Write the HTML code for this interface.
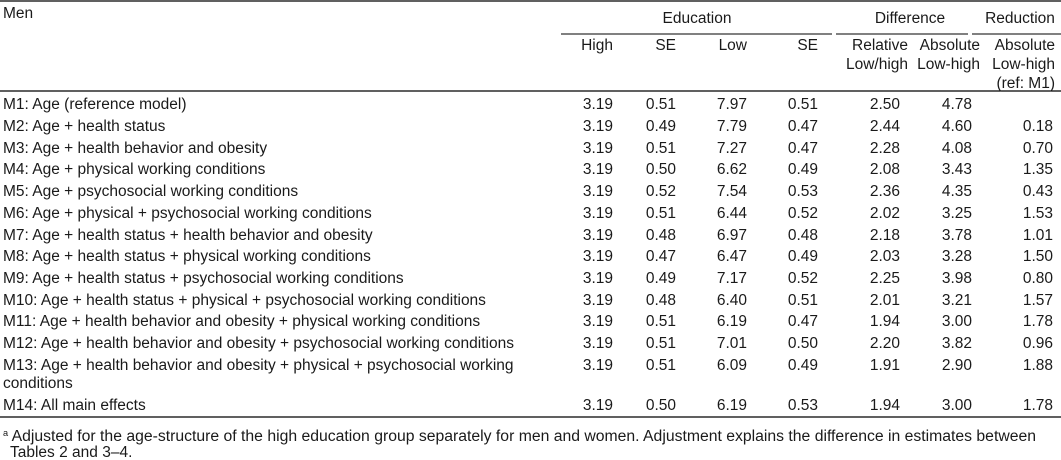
<!DOCTYPE html>
<html><head><meta charset="utf-8"><style>
html,body{margin:0;padding:0;background:#fff;}
svg{display:block;}
text{font-family:"Liberation Sans",Arial,sans-serif;font-size:15.5px;fill:#1a1a1a;}
</style></head><body>
<svg width="1061" height="460" xmlns="http://www.w3.org/2000/svg">
<line x1="0" y1="1" x2="1061" y2="1" stroke="#000" stroke-width="1.3"/>
<line x1="561" y1="34" x2="832" y2="34" stroke="#000" stroke-width="1"/>
<line x1="836" y1="34" x2="968" y2="34" stroke="#000" stroke-width="1"/>
<line x1="972" y1="34" x2="1061" y2="34" stroke="#000" stroke-width="1"/>
<line x1="0" y1="91" x2="1061" y2="91" stroke="#000" stroke-width="1.3"/>
<line x1="0" y1="417" x2="1061" y2="417" stroke="#000" stroke-width="1.3"/>
<text x="3" y="18">Men</text>
<g text-anchor="middle">
<text x="697" y="23">Education</text>
<text x="910" y="23">Difference</text>
<text x="1020" y="23">Reduction</text>
</g>
<g text-anchor="end">
<text x="613" y="50">High</text>
<text x="676" y="50">SE</text>
<text x="747" y="50">Low</text>
<text x="818" y="50">SE</text>
<text x="908" y="50">Relative</text>
<text x="908" y="69">Low/high</text>
<text x="980" y="50">Absolute</text>
<text x="980" y="69">Low-high</text>
<text x="1055" y="50">Absolute</text>
<text x="1055" y="69">Low-high</text>
<text x="1055" y="88">(ref: M1)</text>
</g>
<g id="rows"></g>
<text x="3" y="441" textLength="1033" lengthAdjust="spacingAndGlyphs"><tspan font-size="9" dy="-5">a</tspan><tspan dy="5"> Adjusted for the age-structure of the high education group separately for men and women. Adjustment explains the difference in estimates between</tspan></text>
<text x="10" y="457">Tables 2 and 3–4.</text>
<g>
<text x="3" y="109">M1: Age (reference model)</text>
<text x="3" y="131">M2: Age + health status</text>
<text x="3" y="153">M3: Age + health behavior and obesity</text>
<text x="3" y="174">M4: Age + physical working conditions</text>
<text x="3" y="196">M5: Age + psychosocial working conditions</text>
<text x="3" y="218">M6: Age + physical + psychosocial working conditions</text>
<text x="3" y="240">M7: Age + health status + health behavior and obesity</text>
<text x="3" y="261">M8: Age + health status + physical working conditions</text>
<text x="3" y="283">M9: Age + health status + psychosocial working conditions</text>
<text x="3" y="305">M10: Age + health status + physical + psychosocial working conditions</text>
<text x="3" y="326">M11: Age + health behavior and obesity + physical working conditions</text>
<text x="3" y="348">M12: Age + health behavior and obesity + psychosocial working conditions</text>
<text x="3" y="370">M13: Age + health behavior and obesity + physical + psychosocial working</text>
<text x="3" y="388">conditions</text>
<text x="3" y="410">M14: All main effects</text>
</g>
<g text-anchor="end">
<text y="109"><tspan x="613">3.19</tspan><tspan x="676">0.51</tspan><tspan x="747">7.97</tspan><tspan x="818">0.51</tspan><tspan x="900">2.50</tspan><tspan x="972">4.78</tspan></text>
<text y="131"><tspan x="613">3.19</tspan><tspan x="676">0.49</tspan><tspan x="747">7.79</tspan><tspan x="818">0.47</tspan><tspan x="900">2.44</tspan><tspan x="972">4.60</tspan><tspan x="1053">0.18</tspan></text>
<text y="153"><tspan x="613">3.19</tspan><tspan x="676">0.51</tspan><tspan x="747">7.27</tspan><tspan x="818">0.47</tspan><tspan x="900">2.28</tspan><tspan x="972">4.08</tspan><tspan x="1053">0.70</tspan></text>
<text y="174"><tspan x="613">3.19</tspan><tspan x="676">0.50</tspan><tspan x="747">6.62</tspan><tspan x="818">0.49</tspan><tspan x="900">2.08</tspan><tspan x="972">3.43</tspan><tspan x="1053">1.35</tspan></text>
<text y="196"><tspan x="613">3.19</tspan><tspan x="676">0.52</tspan><tspan x="747">7.54</tspan><tspan x="818">0.53</tspan><tspan x="900">2.36</tspan><tspan x="972">4.35</tspan><tspan x="1053">0.43</tspan></text>
<text y="218"><tspan x="613">3.19</tspan><tspan x="676">0.51</tspan><tspan x="747">6.44</tspan><tspan x="818">0.52</tspan><tspan x="900">2.02</tspan><tspan x="972">3.25</tspan><tspan x="1053">1.53</tspan></text>
<text y="240"><tspan x="613">3.19</tspan><tspan x="676">0.48</tspan><tspan x="747">6.97</tspan><tspan x="818">0.48</tspan><tspan x="900">2.18</tspan><tspan x="972">3.78</tspan><tspan x="1053">1.01</tspan></text>
<text y="261"><tspan x="613">3.19</tspan><tspan x="676">0.47</tspan><tspan x="747">6.47</tspan><tspan x="818">0.49</tspan><tspan x="900">2.03</tspan><tspan x="972">3.28</tspan><tspan x="1053">1.50</tspan></text>
<text y="283"><tspan x="613">3.19</tspan><tspan x="676">0.49</tspan><tspan x="747">7.17</tspan><tspan x="818">0.52</tspan><tspan x="900">2.25</tspan><tspan x="972">3.98</tspan><tspan x="1053">0.80</tspan></text>
<text y="305"><tspan x="613">3.19</tspan><tspan x="676">0.48</tspan><tspan x="747">6.40</tspan><tspan x="818">0.51</tspan><tspan x="900">2.01</tspan><tspan x="972">3.21</tspan><tspan x="1053">1.57</tspan></text>
<text y="326"><tspan x="613">3.19</tspan><tspan x="676">0.51</tspan><tspan x="747">6.19</tspan><tspan x="818">0.47</tspan><tspan x="900">1.94</tspan><tspan x="972">3.00</tspan><tspan x="1053">1.78</tspan></text>
<text y="348"><tspan x="613">3.19</tspan><tspan x="676">0.51</tspan><tspan x="747">7.01</tspan><tspan x="818">0.50</tspan><tspan x="900">2.20</tspan><tspan x="972">3.82</tspan><tspan x="1053">0.96</tspan></text>
<text y="370"><tspan x="613">3.19</tspan><tspan x="676">0.51</tspan><tspan x="747">6.09</tspan><tspan x="818">0.49</tspan><tspan x="900">1.91</tspan><tspan x="972">2.90</tspan><tspan x="1053">1.88</tspan></text>
<text y="410"><tspan x="613">3.19</tspan><tspan x="676">0.50</tspan><tspan x="747">6.19</tspan><tspan x="818">0.53</tspan><tspan x="900">1.94</tspan><tspan x="972">3.00</tspan><tspan x="1053">1.78</tspan></text>
</g>
</svg>
</body></html>
